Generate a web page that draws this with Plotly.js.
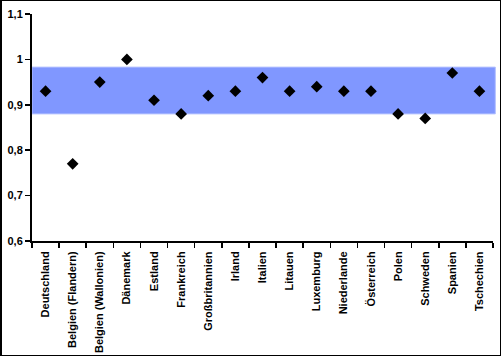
<!DOCTYPE html>
<html><head><meta charset="utf-8">
<script src="https://cdn.plot.ly/plotly-3.0.1.min.js"></script>
<style>
html,body{margin:0;padding:0;background:#fff;}
#wrap{position:relative;width:502px;height:357px;}
#chart{position:absolute;left:0;top:0;width:502px;height:357px;}
#frame{position:absolute;left:0;top:0;width:501px;height:356px;border:1px solid #000;border-left-width:2px;box-sizing:border-box;pointer-events:none;}
</style>
</head><body>
<div id="wrap"><div id="chart"></div><div id="frame"></div></div>
<script>
const countries = ["Deutschland","Belgien (Flandern)","Belgien (Wallonien)","Dänemark","Estland","Frankreich","Großbritannien","Irland","Italien","Litauen","Luxemburg","Niederlande","Österreich","Polen","Schweden","Spanien","Tschechien"];
const values = [0.93,0.77,0.95,1.00,0.91,0.88,0.92,0.93,0.96,0.93,0.94,0.93,0.93,0.88,0.87,0.97,0.93];
const bandLow = 0.88;
const bandHigh = 0.983;
const yTicks = [0.6,0.7,0.8,0.9,1.0,1.1];

const trace = {
  type:'scatter', mode:'markers', x:countries, y:values,
  marker:{symbol:'diamond', size:9, color:'#000'},
  hoverinfo:'x+y', cliponaxis:false
};
const layout = {
  width:502, height:357,
  margin:{l:32, r:9, t:14, b:116, pad:0},
  paper_bgcolor:'#fff', plot_bgcolor:'#fff',
  separators:',.',
  showlegend:false,
  font:{family:'Arial, Liberation Sans, sans-serif', color:'#000'},
  xaxis:{type:'category', tickson:'boundaries', ticks:'outside', ticklen:5, tickwidth:1.5, tickcolor:'#000',
    showline:true, linecolor:'#000', linewidth:2, showgrid:false, zeroline:false,
    tickangle:-90, ticklabelstandoff:4,
    tickfont:{size:11, family:'Arial, Liberation Sans, sans-serif', weight:'bold'},
    range:[-0.5, countries.length-0.5]},
  yaxis:{range:[0.6,1.1], tickvals:yTicks, ticks:'outside', ticklen:5, tickwidth:1.5, tickcolor:'#000',
    showline:true, linecolor:'#000', linewidth:2, showgrid:false, zeroline:false,
    tickfont:{size:11, family:'Arial, Liberation Sans, sans-serif', weight:'bold'}},
  shapes:[{type:'rect', xref:'paper', yref:'y', x0:0, x1:1.005, y0:bandLow, y1:bandHigh,
    fillcolor:'#8097ff', line:{color:'#b3c0ff', width:1}, layer:'below'}]
};
Plotly.newPlot('chart',[trace],layout,{staticPlot:true});
</script>
</body></html>
